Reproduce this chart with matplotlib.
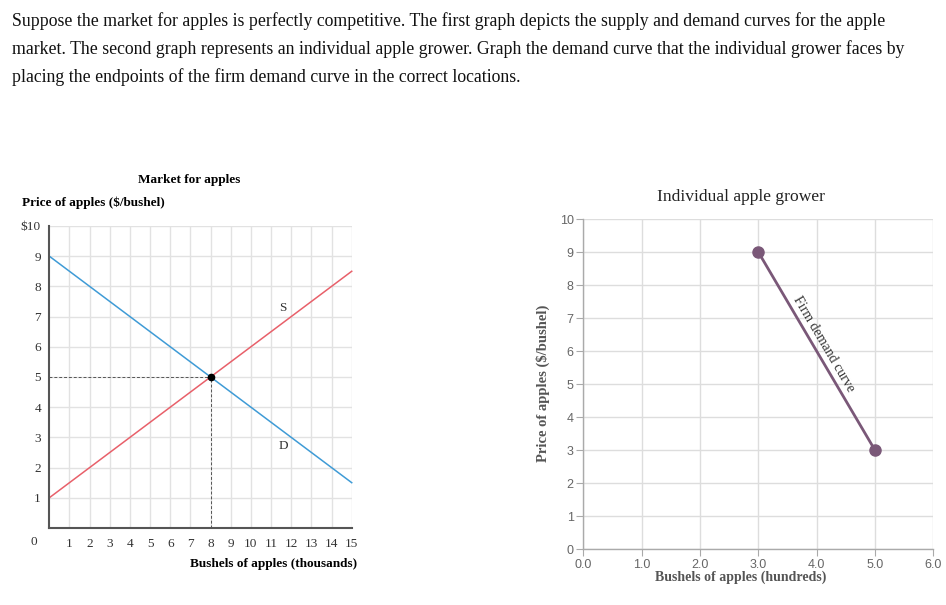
import numpy as np
import matplotlib.pyplot as plt

plt.rcParams['font.family'] = ['Liberation Serif', 'DejaVu Serif']

# market for apples
mkt_q = [0, 15]
demand_p = [9, 1.5]
supply_p = [1, 8.5]
eq_q, eq_p = 8, 5
mkt_xticks = list(range(1, 16))
mkt_yticks = list(range(1, 11))
mkt_ylabels = ['1', '2', '3', '4', '5', '6', '7', '8', '9', '$10']

# individual grower
firm_q = [3.0, 5.0]
firm_p = [9, 3]
firm_xticks = [0.0, 1.0, 2.0, 3.0, 4.0, 5.0, 6.0]
firm_yticks = list(range(0, 11))

fig = plt.figure(figsize=(9.46, 6.05), dpi=100)

question = ("Suppose the market for apples is perfectly competitive. The first graph depicts the supply and demand curves for the apple\n"
            "market. The second graph represents an individual apple grower. Graph the demand curve that the individual grower faces by\n"
            "placing the endpoints of the firm demand curve in the correct locations.")
fig.text(12 / 946, 1 - 12 / 605, question, ha='left', va='top', fontsize=12.8,
         linespacing=1.72, color='#111111')

# ---- left chart ----
ax1 = fig.add_axes([0.0521, 0.1273, 0.3197, 0.4992])
ax1.set_xlim(0, 15)
ax1.set_ylim(0, 10)
ax1.set_xticks(mkt_xticks)
ax1.set_yticks(mkt_yticks)
ax1.set_yticklabels(mkt_ylabels)
ax1.grid(True, color='#e2e2e2', lw=1)
ax1.set_axisbelow(True)
for s in ['top', 'right']:
    ax1.spines[s].set_visible(False)
for s in ['left', 'bottom']:
    ax1.spines[s].set_color('#555555')
    ax1.spines[s].set_linewidth(1.5)
ax1.tick_params(length=0, labelsize=9.5, colors='#333333', pad=6)
ax1.tick_params(axis='x', pad=7)

ax1.plot(mkt_q, demand_p, color='#3f9bd6', lw=1.1, clip_on=False)
ax1.plot(mkt_q, supply_p, color='#e8606a', lw=1.1, clip_on=False)
ax1.plot([0, eq_q], [eq_p, eq_p], ls=(0, (3, 2)), color='#555555', lw=0.7)
ax1.plot([eq_q, eq_q], [0, eq_p], ls=(0, (3, 2)), color='#555555', lw=0.7)
ax1.plot([eq_q], [eq_p], 'o', color='black', ms=4.5, zorder=5)
ax1.text(11.6, 7.3, 'S', fontsize=9.5, ha='center', va='center', color='#333333')
ax1.text(11.6, 2.7, 'D', fontsize=9.5, ha='center', va='center', color='#333333')
ax1.text(-0.6, -0.45, '0', fontsize=9.5, ha='right', va='center', color='#333333')

fig.text(189 / 946, 1 - 180 / 605, 'Market for apples', ha='center', va='center',
         fontsize=9.5, fontweight='bold')
fig.text(22 / 946, 1 - 203 / 605, 'Price of apples ($/bushel)', ha='left', va='center',
         fontsize=9.5, fontweight='bold')
fig.text(357 / 946, 1 - 564 / 605, 'Bushels of apples (thousands)', ha='right', va='center',
         fontsize=9.5, fontweight='bold')

# ---- right chart ----
ax2 = fig.add_axes([0.6166, 0.0921, 0.37, 0.5459])
ax2.set_xlim(0, 6)
ax2.set_ylim(0, 10)
ax2.set_xticks(firm_xticks)
ax2.set_xticklabels([f'{v:.1f}' for v in firm_xticks])
ax2.set_yticks(firm_yticks)
ax2.grid(True, color='#dddddd', lw=1)
ax2.set_axisbelow(True)
for s in ['top', 'right']:
    ax2.spines[s].set_visible(False)
for s in ['left', 'bottom']:
    ax2.spines[s].set_color('#aaaaaa')
    ax2.spines[s].set_linewidth(1.0)
ax2.tick_params(length=5, color='#aaaaaa', labelsize=9, labelcolor='#666666', pad=2)
for lab in ax2.get_xticklabels() + ax2.get_yticklabels():
    lab.set_family(['Liberation Sans', 'DejaVu Sans'])

ax2.plot(firm_q, firm_p, color='#7a5878', lw=2, zorder=4, clip_on=False)
ax2.plot(firm_q, firm_p, 'o', color='#7a5878', ms=8, zorder=5, clip_on=False)

fig.text(741 / 946, 1 - 197 / 605, 'Individual apple grower', ha='center', va='center',
         fontsize=12.6, color='#222222')
fig.text(741 / 946, 1 - 577 / 605, 'Bushels of apples (hundreds)', ha='center', va='center',
         fontsize=10, fontweight='bold', color='#555555')
fig.text(543 / 946, 1 - 383 / 605, 'Price of apples ($/bushel)', ha='center', va='center',
         rotation=90, fontsize=10.5, fontweight='bold', color='#555555')

# label along the line, rotation from the screen slope
fig.canvas.draw()
p0 = ax2.transData.transform((firm_q[0], firm_p[0]))
p1 = ax2.transData.transform((firm_q[1], firm_p[1]))
ang = np.degrees(np.arctan2(p1[1] - p0[1], p1[0] - p0[0]))
ax2.text(4.12, 6.2, 'Firm demand curve', rotation=ang, rotation_mode='anchor',
         ha='center', va='center', fontsize=10, color='#333333')

fig.savefig('out.png', dpi=100)
